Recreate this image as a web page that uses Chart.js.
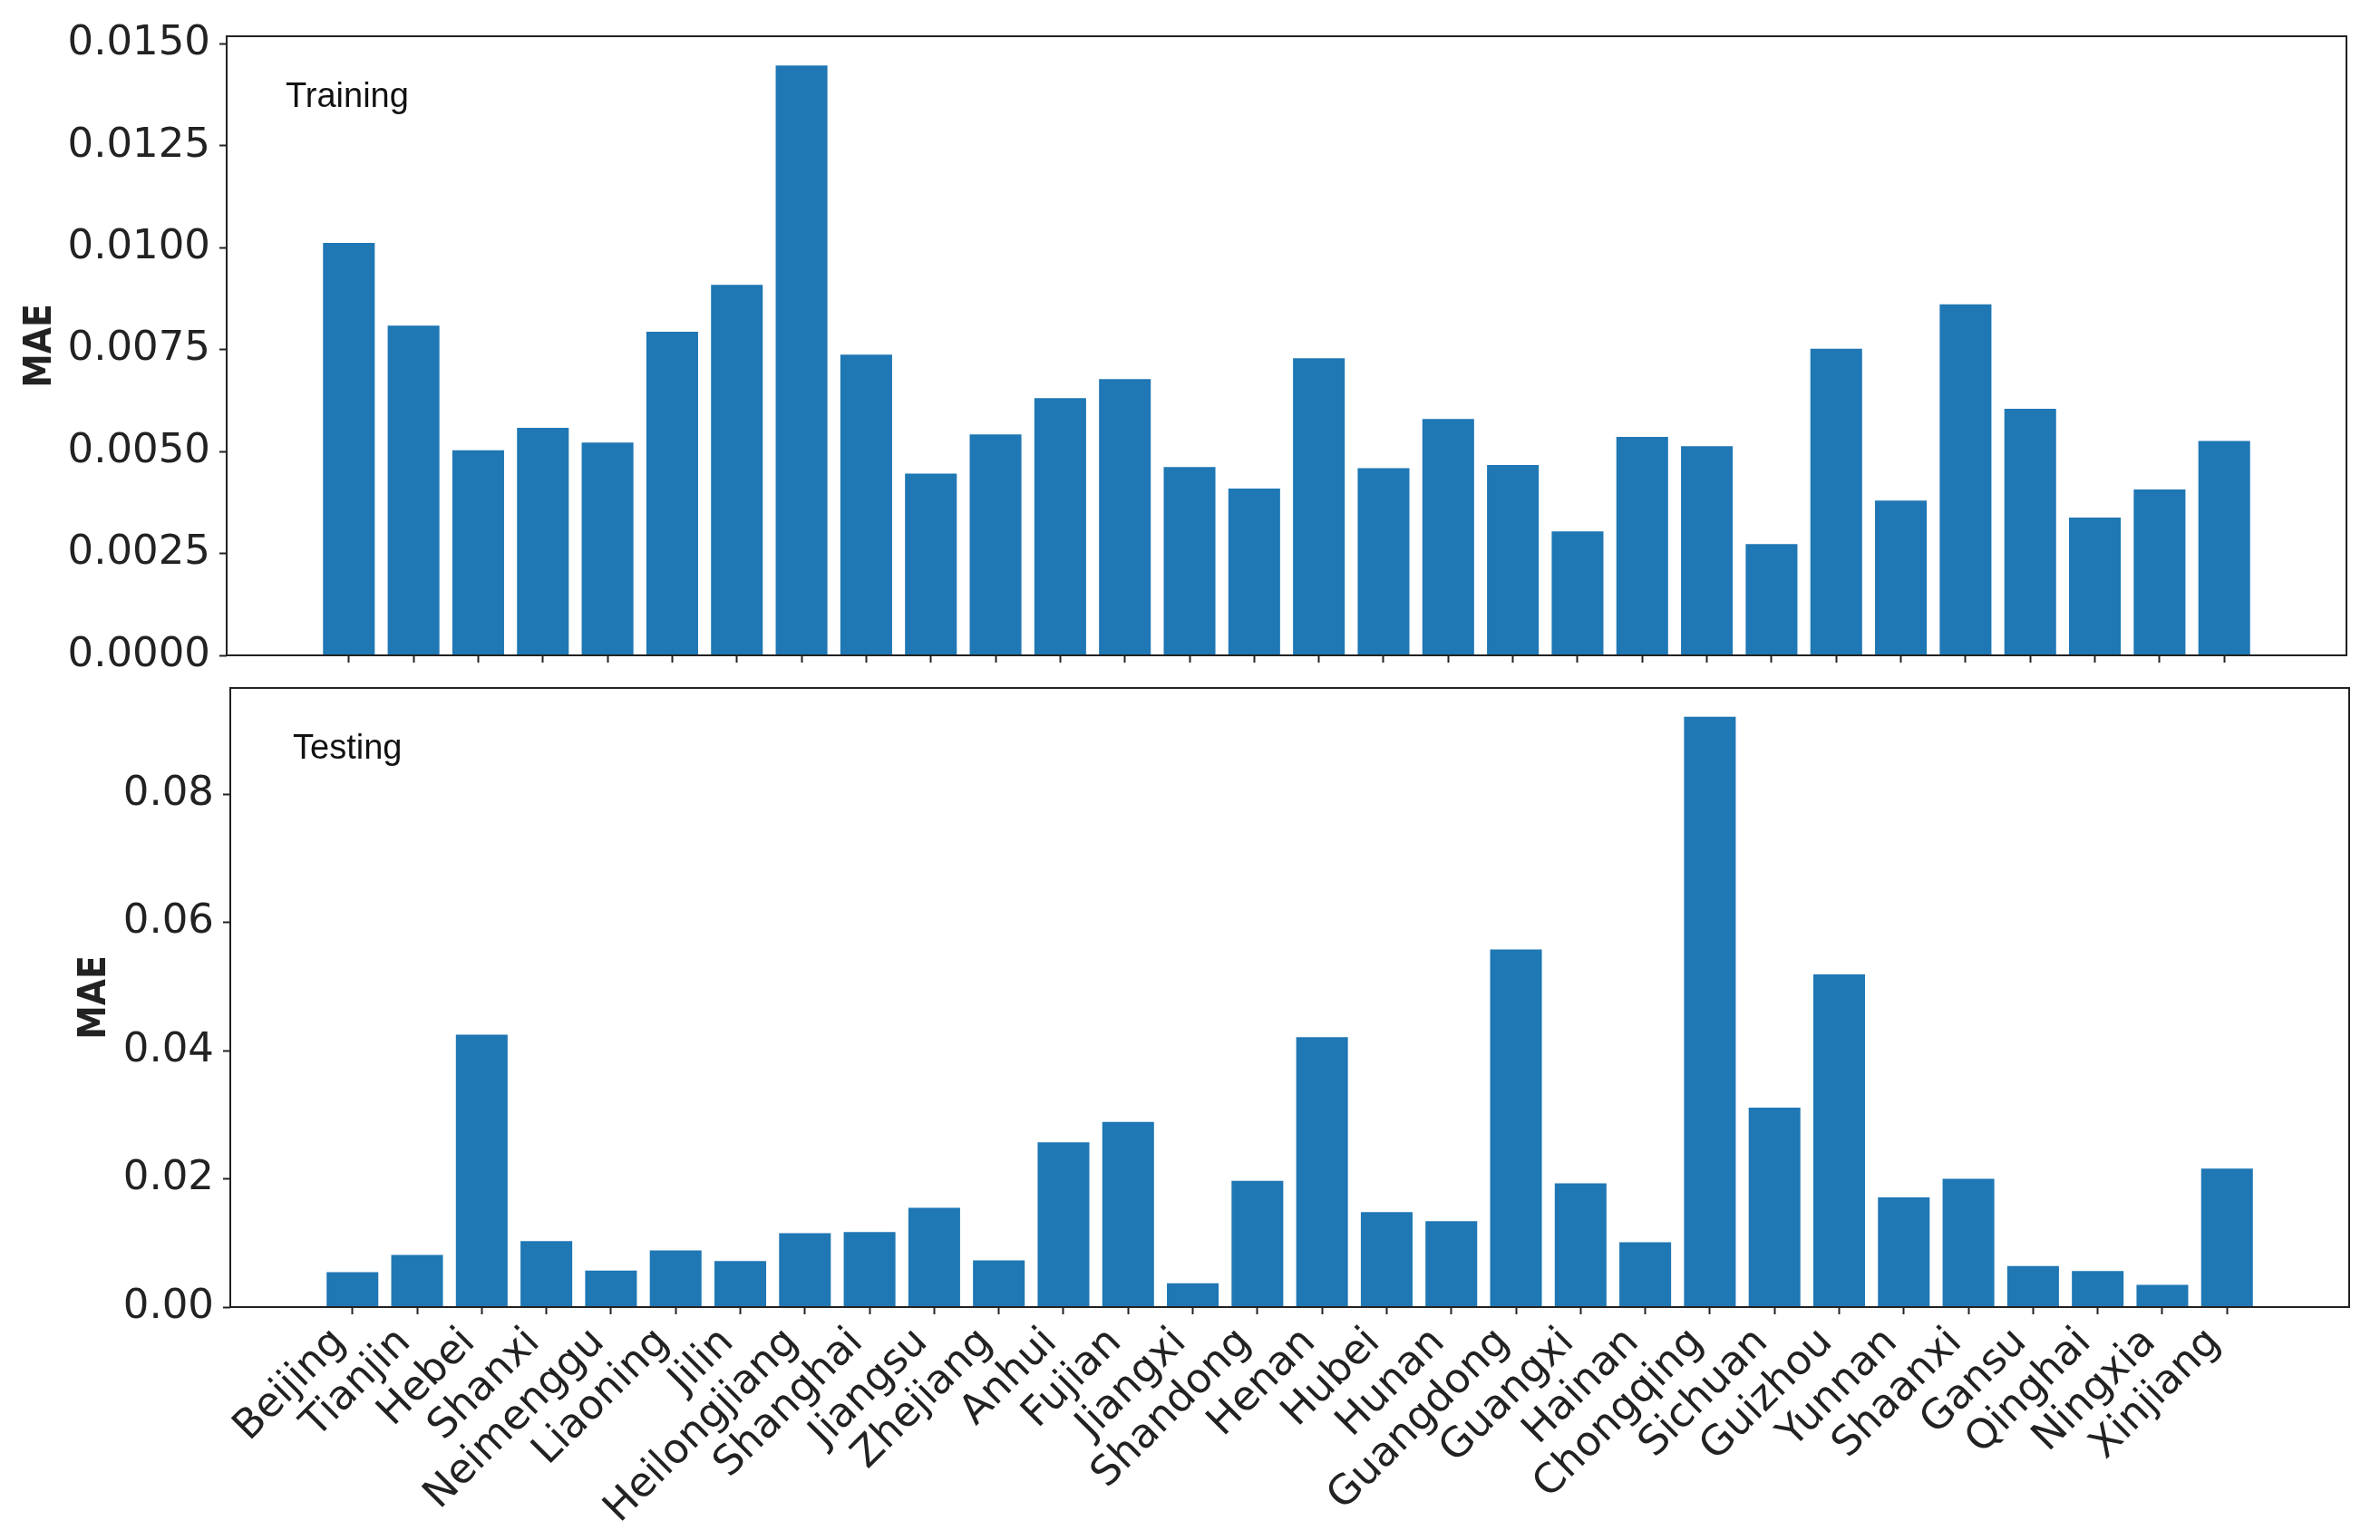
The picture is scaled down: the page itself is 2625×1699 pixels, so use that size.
<!DOCTYPE html>
<html>
<head>
<meta charset="utf-8">
<script src="https://cdn.jsdelivr.net/npm/chart.js@4.4.1/dist/chart.umd.min.js"></script>
<style>
  html, body { margin: 0; padding: 0; background: #fff; }
  #train { position: absolute; left: 0; top: 0; }
  #test { position: absolute; left: 0; top: 740px; }
</style>
</head>
<body>
<canvas id="train" width="2625" height="740"></canvas>
<canvas id="test" width="2625" height="959"></canvas>
<script>
var provinces = ["Beijing", "Tianjin", "Hebei", "Shanxi", "Neimenggu", "Liaoning", "Jilin",
  "Heilongjiang", "Shanghai", "Jiangsu", "Zhejiang", "Anhui", "Fujian", "Jiangxi", "Shandong",
  "Henan", "Hubei", "Hunan", "Guangdong", "Guangxi", "Hainan", "Chongqing", "Sichuan",
  "Guizhou", "Yunnan", "Shaanxi", "Gansu", "Qinghai", "Ningxia", "Xinjiang"];

var trainMAE = [0.01012, 0.00809, 0.00503, 0.00558, 0.00522, 0.00794, 0.00909, 0.01447,
  0.00738, 0.00446, 0.00542, 0.00631, 0.00678, 0.00462, 0.00409, 0.00729, 0.00459, 0.00580,
  0.00467, 0.00304, 0.00536, 0.00513, 0.00273, 0.00752, 0.00380, 0.00861, 0.00605, 0.00338,
  0.00407, 0.00526];

var testMAE = [0.00545, 0.00814, 0.0425, 0.0103, 0.00571, 0.00883, 0.00719, 0.01152,
  0.01169, 0.0155, 0.00727, 0.0257, 0.0289, 0.00372, 0.0197, 0.0421, 0.0148, 0.0134,
  0.0558, 0.0193, 0.0101, 0.0921, 0.0311, 0.0519, 0.0171, 0.0200, 0.0064, 0.00563,
  0.00346, 0.0216];

var trainTickLabels = ["0.0000", "0.0025", "0.0050", "0.0075", "0.0100", "0.0125", "0.0150"];
var testTickLabels = ["0.00", "0.02", "0.04", "0.06", "0.08"];

var axisColor = '#222';
var tickFont = { family: '"DejaVu Sans", sans-serif', size: 45 };

// frame around the plot area, panel caption and the y title
var framePlugin = {
  id: 'frame',
  afterDraw: function(chart, args, opts) {
    var a = chart.chartArea, ctx = chart.ctx;
    ctx.save();
    ctx.strokeStyle = axisColor;
    ctx.lineWidth = 2;
    ctx.strokeRect(a.left, a.top, a.right - a.left, a.bottom - a.top);

    ctx.fillStyle = '#111';
    ctx.font = '38px "Liberation Sans", Arial, sans-serif';
    ctx.textAlign = 'left';
    ctx.textBaseline = 'alphabetic';
    ctx.fillText(opts.caption, a.left + opts.captionDx, a.top + 78);

    ctx.translate(opts.titleX, (a.top + a.bottom) / 2);
    ctx.rotate(-Math.PI / 2);
    ctx.fillStyle = axisColor;
    ctx.font = 'bold 42px "DejaVu Sans Condensed", "DejaVu Sans", sans-serif';
    ctx.textAlign = 'center';
    ctx.textBaseline = 'middle';
    ctx.fillText('MAE', 0, 0);
    ctx.restore();
  }
};

function makeChart(id, values, tickLabels, yMax, o) {
  var tickValues = tickLabels.map(parseFloat);
  return new Chart(document.getElementById(id), {
    type: 'bar',
    data: {
      datasets: [{
        data: values.map(function(v, i) { return { x: i, y: v }; }),
        backgroundColor: '#1f77b4',
        barPercentage: 0.8,
        categoryPercentage: 1.0
      }]
    },
    plugins: [framePlugin],
    options: {
      responsive: false,
      animation: false,
      devicePixelRatio: 1,
      layout: { padding: { top: o.top, right: o.right, left: 0, bottom: 0 } },
      plugins: {
        legend: { display: false },
        tooltip: { enabled: false },
        frame: { caption: o.caption, captionDx: o.captionDx, titleX: o.titleX }
      },
      scales: {
        x: {
          type: 'linear',
          min: -1.89,
          max: provinces.length - 1 + 1.89,
          offset: false,
          border: { display: false },
          grid: { offset: false, drawOnChartArea: false, drawTicks: true, tickLength: 8, tickWidth: 2, tickColor: axisColor },
          afterBuildTicks: function(ax) {
            ax.ticks = provinces.map(function(p, i) { return { value: i }; });
          },
          afterFit: function(ax) {
            ax.height = o.xHeight;
            ax.paddingLeft = 0;
            ax.paddingRight = 0;
          },
          ticks: {
            display: o.showLabels,
            autoSkip: false,
            maxRotation: 45,
            minRotation: 45,
            padding: o.xPad,
            labelOffset: -14,
            color: axisColor,
            font: tickFont,
            callback: function(v) { return provinces[Math.round(v)]; }
          }
        },
        y: {
          type: 'linear',
          min: 0,
          max: yMax,
          border: { display: false },
          grid: { drawOnChartArea: false, drawTicks: true, tickLength: 8, tickWidth: 2, tickColor: axisColor },
          afterBuildTicks: function(ax) {
            ax.ticks = tickValues.map(function(v) { return { value: v }; });
          },
          afterFit: function(ax) {
            ax.width = o.yWidth;
            ax.paddingTop = 0;
            ax.paddingBottom = 0;
          },
          ticks: {
            padding: 10,
            color: axisColor,
            font: tickFont,
            callback: function(v, i) { return tickLabels[i]; }
          }
        }
      }
    }
  });
}

makeChart('train', trainMAE, trainTickLabels, 0.01519, {
  top: 40, right: 37, yWidth: 250, xHeight: 17, showLabels: false, xPad: 0,
  caption: 'Training', captionDx: 65, titleX: 45
});

makeChart('test', testMAE, testTickLabels, 0.0966, {
  top: 19, right: 34, yWidth: 254, xHeight: 257, showLabels: true, xPad: 5,
  caption: 'Testing', captionDx: 69, titleX: 105
});
</script>
</body>
</html>
